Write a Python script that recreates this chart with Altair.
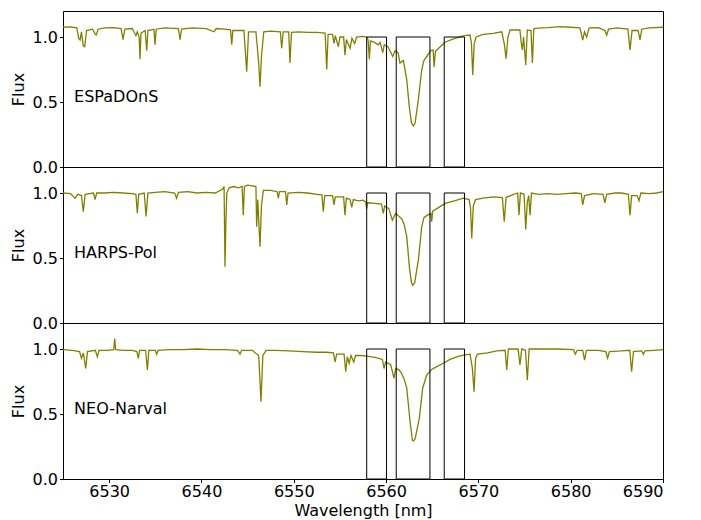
import altair as alt
import pandas as pd

# ---------------- data ----------------
espadons_wl = [6525.0, 6525.8, 6526.5, 6526.7, 6526.85, 6527.0, 6527.2, 6527.35, 6527.55, 6528.2,
               6528.5, 6528.6, 6528.8, 6529.5, 6530.5, 6531.3, 6531.5, 6531.7, 6532.5, 6532.9,
               6533.05, 6533.25, 6533.34, 6533.45, 6533.9, 6534.07, 6534.2, 6534.85, 6534.97, 6535.1,
               6536.0, 6537.5, 6537.68, 6537.85, 6539.0, 6540.5, 6541.36, 6541.6, 6542.5, 6543.15,
               6543.28, 6543.4, 6544.6, 6544.9, 6545.1, 6545.9, 6546.2, 6546.34, 6546.5, 6546.75,
               6547.5, 6548.55, 6548.69, 6548.85, 6549.45, 6549.59, 6549.75, 6550.5, 6551.5, 6552.5,
               6553.4, 6553.57, 6553.72, 6554.2, 6554.36, 6554.5, 6554.83, 6555.0, 6555.4, 6555.55,
               6555.7, 6556.1, 6556.3, 6556.6, 6556.8, 6557.5, 6557.9, 6558.05, 6558.19, 6558.3,
               6558.7, 6559.16, 6559.35, 6559.64, 6559.8, 6560.2, 6560.72, 6560.97, 6561.3, 6561.51,
               6561.87, 6562.24, 6562.52, 6562.75, 6562.95, 6563.14, 6563.49, 6563.86, 6564.1, 6564.4,
               6564.84, 6565.1, 6565.2, 6565.35, 6565.49, 6566.39, 6567.3, 6568.37, 6569.1, 6569.25,
               6569.39, 6569.55, 6569.75, 6570.5, 6571.62, 6572.53, 6572.8, 6573.0, 6573.2, 6573.43,
               6574.5, 6574.65, 6574.76, 6574.9, 6575.13, 6575.3, 6575.7, 6575.85, 6576.0, 6576.14,
               6577.5, 6578.9, 6580.0, 6581.0, 6581.3, 6581.5, 6581.73, 6582.0, 6583.0, 6583.7,
               6583.9, 6584.1, 6585.0, 6586.2, 6586.43, 6586.65, 6587.3, 6587.51, 6587.7, 6588.5,
               6590.0]
espadons_flux = [1.075, 1.078, 1.07, 0.99, 0.977, 1.04, 0.93, 0.925, 1.05, 1.06,
                 1.02, 1.015, 1.06, 1.07, 1.072, 1.065, 0.98, 1.06, 1.065, 1.01,
                 1.04, 1.0, 0.83, 1.03, 1.05, 0.895, 1.05, 1.06, 0.94, 1.06,
                 1.07, 1.065, 0.98, 1.06, 1.07, 1.065, 1.04, 1.065, 1.06, 1.055,
                 0.94, 1.05, 1.05, 0.733, 1.04, 1.04, 0.8, 0.618, 0.85, 1.04,
                 1.045, 1.04, 0.913, 1.04, 1.04, 0.80, 1.035, 1.04, 1.035, 1.035,
                 1.03, 0.75, 1.02, 1.02, 0.95, 1.01, 0.925, 1.0, 1.0, 0.86,
                 0.98, 0.913, 0.99, 0.95, 1.0, 1.005, 1.0, 0.98, 0.83, 0.97,
                 0.96, 0.94, 0.96, 0.88, 0.94, 0.925, 0.85, 0.895, 0.88, 0.80,
                 0.82, 0.67, 0.46, 0.34, 0.315, 0.336, 0.515, 0.746, 0.82, 0.85,
                 0.895, 0.90, 0.77, 0.89, 0.90, 0.96, 0.985, 1.008, 1.015, 0.95,
                 0.708, 0.95, 1.0, 1.02, 1.028, 1.04, 0.95, 0.834, 1.0, 1.054,
                 1.054, 0.95, 0.9, 1.0, 0.785, 1.054, 1.05, 0.80, 1.06, 1.067,
                 1.072, 1.08, 1.075, 1.07, 0.977, 1.04, 1.0, 1.07, 1.072, 1.05,
                 1.015, 1.06, 1.07, 1.06, 0.9, 1.05, 1.05, 0.977, 1.06, 1.07,
                 1.075]

harps_wl = [6525.0, 6525.8, 6526.3, 6526.6, 6527.0, 6527.2, 6527.4, 6528.3, 6528.47, 6528.65,
            6529.5, 6530.5, 6531.5, 6532.5, 6532.9, 6533.05, 6533.2, 6533.8, 6534.0, 6534.2,
            6535.0, 6536.0, 6537.1, 6537.3, 6537.5, 6538.5, 6539.5, 6540.5, 6541.5, 6542.3,
            6542.45, 6542.55, 6542.65, 6542.75, 6543.0, 6543.5, 6544.0, 6544.4, 6544.53, 6544.65,
            6545.0, 6545.5, 6545.9, 6545.98, 6546.1, 6546.34, 6546.5, 6546.7, 6547.5, 6548.2,
            6548.33, 6548.45, 6549.1, 6549.24, 6549.38, 6550.5, 6551.5, 6552.5, 6553.05, 6553.2,
            6553.35, 6554.2, 6554.36, 6554.5, 6555.4, 6555.55, 6555.7, 6556.1, 6556.28, 6556.45,
            6557.0, 6557.5, 6557.8, 6557.9, 6558.0, 6558.8, 6559.5, 6559.7, 6559.85, 6560.3,
            6560.68, 6561.04, 6561.4, 6561.7, 6561.95, 6562.24, 6562.52, 6562.75, 6562.89, 6563.1,
            6563.5, 6563.86, 6564.1, 6564.4, 6564.84, 6564.94, 6565.05, 6565.5, 6566.39, 6567.4,
            6568.37, 6569.0, 6569.15, 6569.28, 6569.45, 6569.7, 6570.5, 6571.62, 6572.6, 6572.8,
            6573.0, 6573.8, 6574.25, 6574.4, 6574.55, 6574.95, 6575.13, 6575.3, 6575.45, 6575.6,
            6575.75, 6576.5, 6577.5, 6578.5, 6579.5, 6580.5, 6581.15, 6581.3, 6581.5, 6582.5,
            6583.5, 6583.7, 6583.9, 6584.8, 6585.5, 6586.25, 6586.43, 6586.6, 6587.2, 6587.4,
            6587.6, 6588.5, 6589.3, 6590.0]
harps_flux = [1.0, 0.995, 0.96, 0.99, 0.98, 0.856, 0.99, 1.0, 0.95, 1.0,
              1.0, 1.005, 1.0, 0.995, 0.99, 0.844, 0.99, 1.0, 0.82, 1.0,
              1.005, 1.01, 1.0, 0.96, 1.005, 1.01, 1.0, 1.005, 1.0, 1.03,
              1.05, 0.433, 0.79, 1.0, 1.04, 1.05, 1.04, 1.05, 0.83, 1.05,
              1.06, 1.055, 1.05, 0.74, 0.95, 0.587, 0.9, 1.02, 1.02, 1.01,
              0.96, 1.01, 1.01, 0.908, 1.0, 1.005, 1.0, 0.99, 0.985, 0.856,
              0.98, 0.98, 0.908, 0.97, 0.97, 0.83, 0.96, 0.95, 0.89, 0.95,
              0.94, 0.945, 0.93, 0.88, 0.925, 0.92, 0.915, 0.844, 0.9, 0.88,
              0.79, 0.844, 0.82, 0.80, 0.76, 0.664, 0.433, 0.31, 0.29, 0.31,
              0.485, 0.74, 0.81, 0.826, 0.844, 0.78, 0.86, 0.88, 0.92, 0.94,
              0.96, 0.95, 0.88, 0.65, 0.9, 0.95, 0.96, 0.97, 0.965, 0.78,
              0.965, 0.99, 1.0, 0.83, 1.0, 0.99, 0.72, 0.93, 0.98, 0.83,
              1.0, 0.99, 0.995, 0.99, 0.995, 1.0, 0.995, 0.908, 0.98, 0.995,
              0.99, 0.925, 0.99, 1.0, 1.0, 0.99, 0.83, 0.98, 0.98, 0.94,
              1.0, 0.995, 1.0, 1.01]

narval_wl = [6525.0, 6526.0, 6526.8, 6527.0, 6527.2, 6527.46, 6527.65, 6528.5, 6528.72, 6528.9,
             6529.8, 6530.5, 6530.6, 6530.7, 6531.5, 6532.5, 6533.0, 6533.16, 6533.3, 6533.95,
             6534.14, 6534.3, 6535.0, 6535.15, 6535.3, 6536.5, 6538.0, 6539.5, 6541.0, 6542.5,
             6543.9, 6544.18, 6544.35, 6545.5, 6546.2, 6546.45, 6546.65, 6547.0, 6548.0, 6549.5,
             6551.0, 6552.5, 6553.5, 6554.3, 6554.47, 6554.65, 6555.45, 6555.63, 6555.8, 6556.0,
             6556.2, 6556.5, 6556.7, 6557.3, 6557.9, 6558.8, 6559.6, 6559.78, 6559.95, 6560.5,
             6560.86, 6561.05, 6561.4, 6561.7, 6561.95, 6562.24, 6562.6, 6562.85, 6562.95, 6563.15,
             6563.6, 6563.97, 6564.4, 6564.9, 6565.49, 6566.2, 6566.93, 6567.9, 6568.6, 6569.1,
             6569.35, 6569.53, 6569.7, 6569.9, 6571.0, 6572.0, 6572.9, 6573.07, 6573.25, 6574.3,
             6574.5, 6574.7, 6575.1, 6575.3, 6575.5, 6577.0, 6578.5, 6580.3, 6580.5, 6580.7,
             6581.3, 6581.5, 6581.7, 6583.0, 6583.8, 6584.0, 6584.2, 6585.5, 6586.4, 6586.6,
             6586.8, 6587.7, 6587.87, 6588.05, 6589.0, 6590.0]
narval_flux = [0.995, 0.99, 0.98, 0.928, 0.97, 0.85, 0.98, 0.99, 0.94, 0.99,
               0.99, 0.995, 1.08, 0.995, 0.99, 0.99, 0.98, 0.928, 0.99, 0.99,
               0.838, 0.99, 0.99, 0.96, 0.99, 0.995, 0.995, 1.0, 0.995, 0.995,
               0.99, 0.96, 0.99, 0.99, 0.95, 0.595, 0.95, 0.99, 0.99, 0.985,
               0.98, 0.975, 0.975, 0.97, 0.90, 0.96, 0.96, 0.825, 0.94, 0.89,
               0.95, 0.90, 0.95, 0.95, 0.945, 0.935, 0.92, 0.85, 0.9, 0.88,
               0.775, 0.85, 0.84, 0.81, 0.77, 0.70, 0.44, 0.30, 0.292, 0.31,
               0.467, 0.70, 0.80, 0.84, 0.864, 0.89, 0.92, 0.945, 0.955, 0.96,
               0.85, 0.672, 0.93, 0.96, 0.97, 0.985, 0.99, 0.838, 1.0, 1.0,
               0.877, 1.0, 0.99, 0.76, 1.0, 1.0, 1.0, 0.995, 0.96, 0.99,
               0.99, 0.915, 0.99, 0.99, 0.98, 0.93, 0.98, 0.985, 0.99, 0.825,
               0.98, 0.985, 0.96, 0.985, 0.99, 0.995]

instrument_names = ["ESPaDOnS", "HARPS-Pol", "NEO-Narval"]
box_start = [6557.9, 6561.1, 6566.3]
box_end = [6560.05, 6564.75, 6568.5]
box_top = [1.0, 1.0, 1.0]
label_wl = [6526.2]
label_flux = [0.54]

LINE_COLOR = "#808000"
W, H = 600, 156
X_DOMAIN = [6525, 6590]
Y_DOMAIN = [0, 1.2]


def panel(wl, flux, name, bottom):
    df = pd.DataFrame({"wl": wl, "flux": flux})
    xscale = alt.Scale(domain=X_DOMAIN, nice=False, zero=False)
    yscale = alt.Scale(domain=Y_DOMAIN, nice=False)
    if bottom:
        xaxis = alt.Axis(title="Wavelength [nm]", values=[6530, 6540, 6550, 6560, 6570, 6580, 6590],
                         format="d", grid=False, domain=False, tickSize=3.5, labelPadding=1,
                         titlePadding=3)
    else:
        xaxis = None
    yaxis = alt.Axis(title="Flux", values=[0, 0.5, 1.0], format=".1f", grid=False, domain=False,
                     tickSize=3.5, labelPadding=2, titlePadding=6)
    x = alt.X("wl:Q", scale=xscale, axis=xaxis)
    y = alt.Y("flux:Q", scale=yscale, axis=yaxis)

    line = alt.Chart(df).mark_line(color=LINE_COLOR, strokeWidth=1.3).encode(x=x, y=y)

    boxes_df = pd.DataFrame({"wl": box_start, "wl2": box_end,
                             "flux": [0.0] * len(box_start), "flux2": box_top})
    boxes = alt.Chart(boxes_df).mark_rect(fillOpacity=0, stroke="black", strokeWidth=1).encode(
        x=x, x2="wl2:Q", y=y, y2="flux2:Q")

    lab_df = pd.DataFrame({"wl": label_wl, "flux": label_flux, "name": [name]})
    label = alt.Chart(lab_df).mark_text(align="left", baseline="middle", fontSize=16,
                                        font="DejaVu Sans", color="black").encode(
        x=x, y=y, text="name:N")

    return alt.layer(line, boxes, label).properties(width=W, height=H)


chart = alt.vconcat(
    panel(espadons_wl, espadons_flux, instrument_names[0], False),
    panel(harps_wl, harps_flux, instrument_names[1], False),
    panel(narval_wl, narval_flux, instrument_names[2], True),
    spacing=0,
    bounds="flush",
).properties(
    padding={"left": 9, "top": 10, "right": 30, "bottom": 0},
    background="white",
).configure_view(
    stroke="black", strokeWidth=1
).configure_axis(
    labelFont="DejaVu Sans", titleFont="DejaVu Sans", labelFontSize=16, titleFontSize=16,
    titleFontWeight="normal", labelColor="black", titleColor="black", tickColor="black",
    tickWidth=1
)

chart.save("out.html", embed_options={"renderer": "svg", "actions": False})
